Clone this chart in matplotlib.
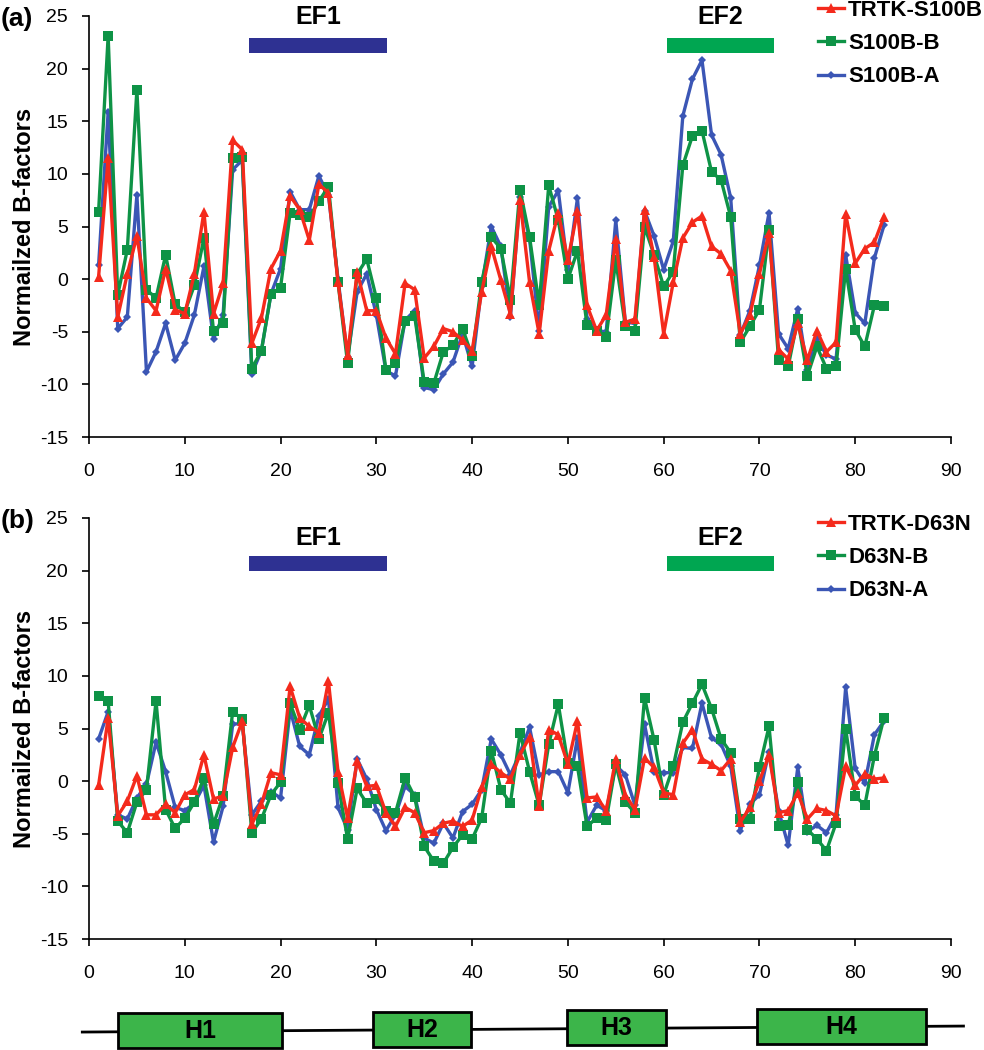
import matplotlib.pyplot as plt
from matplotlib.patches import Rectangle

plt.rcParams['font.family'] = ['Liberation Sans', 'DejaVu Sans']
plt.rcParams['axes.unicode_minus'] = False

residues = list(range(1, 84))

# panel (a)
trtk_s100b = [0.2, 11.5, -3.6, 0.5, 4.1, -1.8, -3.0, 1.0, -2.9, -3.3,
              0.5, 6.4, -3.3, -0.4, 13.2, 12.3, -6.1, -3.7, 1.0, 2.7,
              7.9, 6.6, 3.7, 9.0, 8.2, -0.3, -7.2, 0.7, -3.0, -3.0,
              -5.6, -7.1, -0.4, -1.0, -7.5, -6.4, -4.7, -5.0, -5.8, -6.8,
              -1.2, 3.1, -0.1, -3.3, 7.5, -0.3, -5.2, 2.7, 6.3, 1.8,
              6.5, -2.5, -4.9, -3.4, 3.8, -4.1, -3.8, 6.6, 2.1, -5.2,
              -0.3, 3.9, 5.4, 6.0, 3.1, 2.4, 0.8, -5.2, -3.4, 0.5,
              4.4, -6.7, -7.6, -4.2, -7.7, -4.9, -6.9, -6.0, 6.2, 1.5,
              2.9, 3.5, 5.9]
s100b_b = [6.4, 23.1, -1.5, 2.8, 18.0, -1.0, -1.8, 2.3, -2.4, -3.1,
           -0.6, 3.9, -4.9, -4.2, 11.5, 11.6, -8.5, -6.8, -1.4, -0.8,
           6.3, 6.1, 5.9, 7.4, 8.8, -0.3, -8.0, 0.5, 1.9, -1.8,
           -8.6, -8.0, -4.0, -3.5, -9.8, -9.9, -6.9, -6.3, -4.7, -7.3,
           -0.3, 4.0, 2.9, -2.0, 8.5, 4.0, -2.5, 8.9, 5.6, 0.0,
           2.7, -4.4, -4.9, -5.5, 1.8, -4.5, -4.9, 5.0, 2.3, -0.7,
           0.7, 10.8, 13.6, 14.1, 10.2, 9.4, 5.9, -6.0, -4.5, -2.9,
           4.7, -7.7, -8.3, -3.8, -9.2, -6.4, -8.5, -8.3, 1.0, -4.8,
           -6.4, -2.5, -2.6]
s100b_a = [1.3, 15.9, -4.7, -3.6, 8.0, -8.8, -6.9, -4.2, -7.7, -6.1,
           -3.4, 1.2, -5.7, -3.4, 10.4, 11.3, -9.0, -6.8, -1.4, 1.0,
           8.3, 6.6, 6.6, 9.8, 8.0, 0.0, -7.4, -1.2, 0.5, -3.4,
           -8.7, -9.2, -3.9, -3.0, -10.3, -10.5, -9.0, -7.9, -5.2, -8.3,
           -0.7, 5.0, 3.1, -3.6, 7.8, 3.8, -4.9, 6.9, 8.4, 0.9,
           7.7, -3.8, -4.9, -5.0, 5.6, -4.1, -4.2, 6.5, 4.1, 0.9,
           3.6, 15.5, 19.0, 20.8, 13.7, 11.8, 7.7, -5.3, -3.0, 1.3,
           6.3, -5.2, -6.6, -2.8, -8.6, -5.7, -7.2, -7.6, 2.3, -3.2,
           -4.2, 2.0, 5.1]

# panel (b)
trtk_d63n = [-0.4, 6.0, -3.3, -1.9, 0.5, -3.2, -3.2, -2.2, -3.0, -1.3,
             -0.8, 2.5, -1.7, -1.4, 3.2, 5.7, -4.1, -2.2, 0.8, 0.6,
             9.0, 6.0, 5.2, 4.6, 9.5, 0.9, -3.5, 1.9, -0.5, -0.4,
             -3.0, -4.3, -2.5, -3.0, -4.9, -4.7, -4.0, -3.8, -4.3, -3.7,
             -0.6, 1.6, 0.8, 0.2, 2.5, 4.2, -2.4, 4.9, 4.4, 1.6,
             5.7, -1.6, -1.5, -2.8, 2.1, -1.3, -2.7, 2.2, 1.3, -1.1,
             -1.3, 3.6, 4.9, 2.1, 1.6, 1.0, 2.1, -3.9, -2.5, 0.0,
             2.5, -3.0, -2.8, -1.1, -3.6, -2.6, -2.8, -3.3, 1.4, -0.4,
             0.7, 0.2, 0.3]
d63n_b = [8.1, 7.6, -3.8, -4.9, -2.0, -0.8, 7.6, -2.7, -4.5, -3.5,
          -2.0, 0.3, -4.1, -1.4, 6.6, 5.9, -4.9, -3.6, -1.3, -0.1,
          7.4, 4.9, 7.2, 4.0, 6.5, -0.2, -5.5, -0.7, -2.1, -1.7,
          -2.8, -3.0, 0.3, -1.5, -6.2, -7.6, -7.8, -6.3, -5.1, -5.5,
          -3.5, 2.9, -0.8, -2.1, 4.6, 0.9, -2.3, 3.5, 7.3, 1.7,
          1.4, -4.3, -3.5, -3.7, 1.6, -2.0, -3.0, 7.9, 3.9, -1.3,
          1.4, 5.6, 7.4, 9.2, 6.9, 4.0, 2.7, -3.6, -3.6, 1.3,
          5.2, -4.3, -4.2, -0.1, -4.6, -5.5, -6.6, -4.0, 5.0, -1.4,
          -2.3, 2.4, 6.0]
d63n_a = [4.0, 6.6, -3.2, -3.6, -1.6, -0.3, 3.7, 0.9, -2.5, -2.8,
          -2.1, -0.4, -5.8, -2.4, 5.4, 5.5, -3.2, -1.9, -1.0, -1.6,
          6.8, 3.3, 2.5, 6.2, 7.8, -2.5, -4.6, 2.1, 0.2, -2.7,
          -4.7, -3.2, -0.5, -1.3, -5.4, -5.9, -4.0, -5.4, -2.9, -2.2,
          -0.8, 4.0, 2.5, 0.6, 2.7, 5.1, 0.6, 0.9, 0.9, -1.1,
          4.1, -3.9, -2.3, -2.8, 1.5, 0.6, -2.3, 5.4, 0.9, 0.8,
          0.8, 3.2, 3.1, 7.4, 4.1, 3.5, 1.4, -4.7, -2.2, -1.3,
          2.8, -2.8, -6.1, 1.3, -4.8, -4.2, -4.9, -3.2, 8.9, 1.2,
          -0.2, 4.4, 5.7]

# EF-hand loops and helices (residue ranges)
ef_names = ['EF1', 'EF2']
ef_start = [16.7, 60.3]
ef_end = [31.1, 71.5]
ef_colors = ['#2E3192', '#00A651']

helix_names = ['H1', 'H2', 'H3', 'H4']
helix_start = [3.0, 29.6, 49.9, 69.7]
helix_end = [20.2, 39.9, 60.2, 87.4]

red = '#F42A1C'
green = '#0E9346'
blue = '#3B56B5'

W, H = 984, 1050
fig = plt.figure(figsize=(W / 100, H / 100), dpi=100)


def fx(px):
    return px / W


def fy(px):
    return 1 - px / H


def panel(top, bottom, tag, series, labels, ef_bar_y, ef_text_y, leg_top):
    ax = fig.add_axes([fx(89), fy(bottom), fx(951) - fx(89), fy(top) - fy(bottom)])
    styles = [(blue, 'D', 4.5), (green, 's', 6.5), (red, '^', 7.5)]
    handles = []
    for vals, (c, m, ms) in zip(series[::-1], styles):
        h, = ax.plot(residues, vals, color=c, marker=m, markersize=ms, lw=2.4,
                     markeredgewidth=0, clip_on=False)
        handles.append(h)
    ax.set_xlim(0, 90)
    ax.set_ylim(-15, 25)
    ax.set_xticks(range(0, 91, 10))
    ax.set_yticks(range(-15, 26, 5))
    for s in ['top', 'right']:
        ax.spines[s].set_visible(False)
    for s in ['left', 'bottom']:
        ax.spines[s].set_linewidth(1.2)
    ax.tick_params(direction='out', length=5, width=1.2, labelsize=14)
    ax.tick_params(axis='y', pad=10)
    ax.tick_params(axis='x', pad=14)
    ax.set_ylabel('Normailzed B-factors', fontsize=17, fontweight='bold')
    ax.yaxis.set_label_coords(-0.062, 0.5)
    for name, x0, x1, c in zip(ef_names, ef_start, ef_end, ef_colors):
        ax.add_patch(Rectangle((x0, ef_bar_y - 0.7), x1 - x0, 1.4, color=c, lw=0))
        ax.text((x0 + x1) / 2, ef_text_y, name, ha='center', va='center',
                fontsize=18, fontweight='bold')
    ax.legend(handles[::-1], labels, loc='upper left', frameon=False,
              bbox_to_anchor=(fx(818), fy(leg_top)), bbox_transform=fig.transFigure,
              borderpad=0, borderaxespad=0, handlelength=1.15, handletextpad=0.2,
              labelspacing=0.55, prop={'weight': 'bold', 'size': 16})
    fig.text(fx(1), fy(top + 3), tag, fontsize=19, fontweight='bold', va='center')
    return ax


panel(16, 437, '(a)', [trtk_s100b, s100b_b, s100b_a],
      ['TRTK-S100B', 'S100B-B', 'S100B-A'], 22.2, 24.9, 0)
panel(518, 939, '(b)', [trtk_d63n, d63n_b, d63n_a],
      ['TRTK-D63N', 'D63N-B', 'D63N-A'], 20.7, 23.1, 514)

# secondary structure strip
hx = fig.add_axes([0, 0, 1, fy(1000)])
hx.set_xlim(-89 / 9.578, (W - 89) / 9.578)
hx.set_ylim(0, 50)
hx.axis('off')


def base(x):
    return 18 + 0.065 * x


hx.plot([-0.7, 91.3], [base(-0.7), base(91.3)], color='black', lw=2, zorder=1)
for name, x0, x1 in zip(helix_names, helix_start, helix_end):
    yb = base((x0 + x1) / 2)
    hx.add_patch(Rectangle((x0, yb - 17), x1 - x0, 35, facecolor='#3CB54A',
                           edgecolor='black', lw=2, zorder=2))
    hx.text((x0 + x1) / 2, yb, name, ha='center', va='center',
            fontsize=18, fontweight='bold', zorder=3)

fig.savefig('out.png', dpi=100)
